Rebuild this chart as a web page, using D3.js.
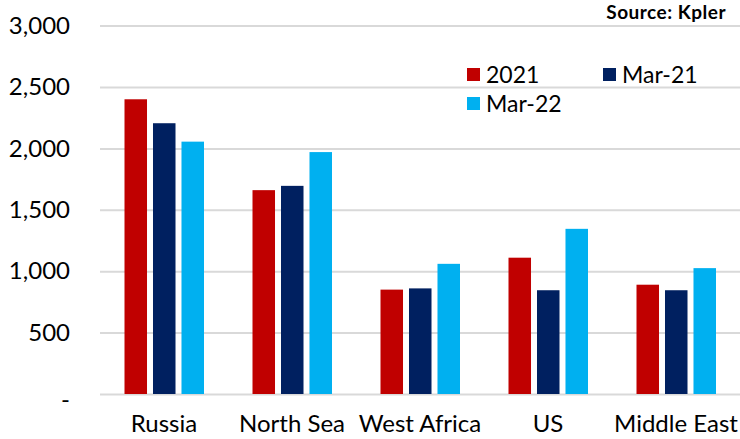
<!DOCTYPE html>
<html><head><meta charset="utf-8">
<script src="https://cdn.jsdelivr.net/npm/d3@7"></script>
<style>body{margin:0;background:#fff;} svg{display:block;font-family:Lato,"Open Sans",sans-serif;}</style>
</head><body>
<svg id="c" width="740" height="439"></svg>
<script>
const categories = ["Russia","North Sea","West Africa","US","Middle East"];
const seriesNames = ["2021","Mar-21","Mar-22"];
const values2021 = [2400,1660,850,1110,890];
const valuesMar21 = [2205,1695,860,845,845];
const valuesMar22 = [2055,1970,1060,1345,1025];
const yTicks = [0,500,1000,1500,2000,2500,3000];
const colors = ["#C00000","#002060","#00B0F0"];

const seriesVals = [values2021, valuesMar21, valuesMar22];
const svg = d3.select("#c");
const x0 = d3.scaleBand().domain(categories).range([100,740]).padding(0);
const x1 = d3.scaleBand().domain(seriesNames).range([24.5,104]).paddingInner(0.21).paddingOuter(0);
const y = d3.scaleLinear().domain([0,3000]).range([394,25.6]);

const yAxis = svg.append("g").attr("transform","translate(100,0)")
  .call(d3.axisLeft(y).tickValues(yTicks).tickSize(-640)
    .tickFormat(d => d === 0 ? "-" : d3.format(",")(d)));
yAxis.select(".domain").remove();
yAxis.selectAll(".tick line").attr("stroke","#d9d9d9").attr("stroke-width",2);
yAxis.selectAll(".tick text").attr("x",-30).attr("font-size",24).attr("fill","#000")
  .attr("font-family","Lato, sans-serif");
yAxis.selectAll(".tick").filter(d=>d===0).select("text").attr("x",-30).attr("dy","0.55em");

const g = svg.append("g");
categories.forEach((c,i)=>{
  seriesNames.forEach((s,j)=>{
    g.append("rect")
      .attr("x", x0(c)+x1(s))
      .attr("width", x1.bandwidth())
      .attr("y", y(seriesVals[j][i]))
      .attr("height", y(0)-y(seriesVals[j][i]))
      .attr("fill", colors[j]);
  });
});

const xAxis = svg.append("g").attr("transform","translate(0,394)")
  .call(d3.axisBottom(x0).tickSize(0).tickPadding(21));
xAxis.select(".domain").remove();
xAxis.selectAll(".tick text").attr("font-size",24).attr("fill","#000").attr("font-family","Lato, sans-serif");

// legend
const legendPos = [[467,68],[603,68],[467,97]];
seriesNames.forEach((s,j)=>{
  const [lx,ly] = legendPos[j];
  svg.append("rect").attr("x",lx).attr("y",ly).attr("width",13).attr("height",13).attr("fill",colors[j]);
  svg.append("text").attr("x",lx+19).attr("y",ly+15).attr("font-size",23).attr("fill","#000").text(s);
});

svg.append("text").attr("x",726).attr("y",19).attr("text-anchor","end")
  .attr("font-size",19).attr("font-weight","bold").attr("letter-spacing",0.5).attr("fill","#000").text("Source: Kpler");
</script>
</body></html>
